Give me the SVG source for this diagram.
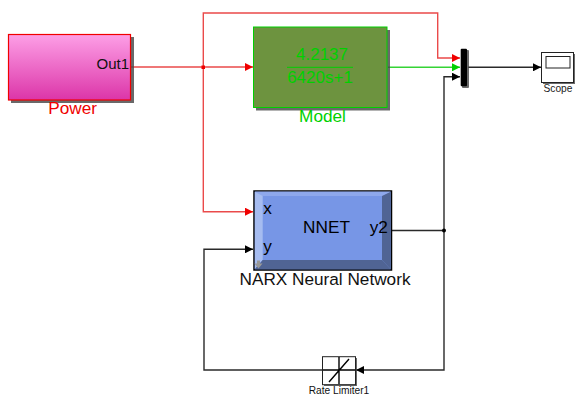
<svg xmlns="http://www.w3.org/2000/svg" width="575" height="394" viewBox="0 0 575 394">
<style>
text{font-family:"Liberation Sans",Arial,sans-serif}
.c{fill:none;stroke-width:1.4}
.r{stroke:#ea4a4a}.k{stroke:#2a2a2a}.g{stroke:#35d435}
.s{fill:#444;opacity:.8}
</style>
<defs>
<linearGradient id="pink" x1="0" y1="0" x2="0" y2="1"><stop offset="0" stop-color="#fd9fe6"/><stop offset="1" stop-color="#dc35a8"/></linearGradient>
<marker id="ar" markerWidth="9" markerHeight="8" refX="8" refY="4" orient="auto" markerUnits="userSpaceOnUse"><path d="M0 0L8 4L0 8z" fill="#f00000"/></marker>
<marker id="ag" markerWidth="9" markerHeight="8" refX="8" refY="4" orient="auto" markerUnits="userSpaceOnUse"><path d="M0 0L8 4L0 8z" fill="#00d000"/></marker>
<marker id="ak" markerWidth="9" markerHeight="8" refX="8" refY="4" orient="auto" markerUnits="userSpaceOnUse"><path d="M0 0L8 4L0 8z" fill="#000"/></marker>
</defs>
<rect width="575" height="394" fill="#fff"/>
<g id="connectors">
<path class="c r" d="M131 67H253" marker-end="url(#ar)"/>
<path class="c r" d="M203.300 67V13H437.700V58H460" marker-end="url(#ar)"/>
<path class="c r" d="M203.300 67V211.700H253" marker-end="url(#ar)"/>
<path class="c g" d="M388 67.300H460" marker-end="url(#ag)"/>
<path class="c k" d="M468 67.300H541" marker-end="url(#ak)"/>
<path class="c k" d="M392 230.500H444V76.700H460" marker-end="url(#ak)"/>
<path class="c k" d="M444 230.500V370H356" marker-end="url(#ak)"/>
<path class="c k" d="M322 370H204V249.300H253" marker-end="url(#ak)"/>
<rect x="201.500" y="65.500" width="3.500" height="3.500" fill="#f00000"/>
<circle cx="444" cy="230.500" r="2" fill="#000"/>
</g>
<g id="power">
<rect class="s" x="11" y="37" width="123" height="66"/>
<rect x="8.500" y="34.500" width="122" height="65.500" fill="url(#pink)" stroke="#f00000" stroke-width="1.200"/>
<text x="129" y="69" font-size="15" text-anchor="end" fill="#111">Out1</text>
<text x="72.700" y="114" font-size="17.200" text-anchor="middle" fill="#f00000">Power</text>
</g>
<g id="model">
<rect class="s" x="256" y="30" width="134" height="80.500"/>
<rect x="253.500" y="27" width="133.500" height="80.500" fill="#6d933f" stroke="#00d000"/>
<text x="322" y="60" font-size="17" text-anchor="middle" fill="#00d000">4.2137</text>
<path d="M287 67.300H353" stroke="#00d000" fill="none"/>
<text x="320" y="82.700" font-size="17" text-anchor="middle" fill="#00d000">6420s+1</text>
<text x="322.500" y="122" font-size="17.200" text-anchor="middle" fill="#00d000">Model</text>
</g>
<g id="mux">
<rect class="s" x="462" y="50" width="7" height="38" rx="1"/>
<rect x="460.700" y="48.700" width="6.300" height="37.500" fill="#000" rx="1"/>
</g>
<g id="scope">
<rect class="s" x="543" y="54" width="32" height="30"/>
<rect x="541.500" y="52.500" width="32" height="30" fill="#fff" stroke="#222"/>
<rect x="546" y="56.500" width="24" height="11.500" fill="#fff" stroke="#222"/>
<text x="558" y="92" font-size="10.200" text-anchor="middle" fill="#222">Scope</text>
</g>
<g id="nnet">
<rect x="254" y="191" width="137.500" height="79" fill="#7796e6" stroke="#000" stroke-width="1.500"/>
<path d="M254.800 191.800H390.700L382 196H262.700V260L254.800 269.200z" fill="#a6bcf0"/>
<path d="M254.800 191.800H390.700L382 196H262.700z" fill="#8ea8ec"/>
<path d="M390.700 191.800V269.200L382 260V196z" fill="#506494"/>
<path d="M254.800 269.200L262.700 260H382L390.700 269.200z" fill="#506494"/>
<path d="M257 260.500h3v3h2.500l-4 5l-4-5h2.500z" fill="#999"/>
<text x="263.300" y="214" font-size="17.200" fill="#000">x</text>
<text x="263.300" y="252" font-size="17.200" fill="#000">y</text>
<text x="326.500" y="233.300" font-size="17.200" text-anchor="middle" fill="#000">NNET</text>
<text x="387.800" y="233.300" font-size="17.200" text-anchor="end" fill="#000">y2</text>
<text x="325" y="285" font-size="17.200" text-anchor="middle" fill="#111">NARX Neural Network</text>
</g>
<g id="rate-limiter">
<rect class="s" x="324" y="358" width="33" height="28"/>
<rect x="322.500" y="356.700" width="33" height="28" fill="#fff" stroke="#222"/>
<path d="M323 370H355M339 357V384M329 382L349 359" stroke="#000" stroke-width="1.400" fill="none"/>
<text x="339" y="394" font-size="10.200" text-anchor="middle" fill="#111">Rate Limiter1</text>
</g>
</svg>
